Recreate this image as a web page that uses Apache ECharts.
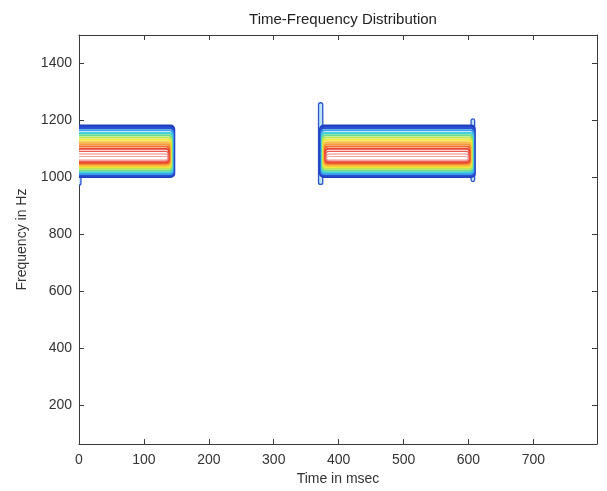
<!DOCTYPE html>
<html><head><meta charset="utf-8">
<script src="https://cdn.jsdelivr.net/npm/echarts@6/dist/echarts.min.js"></script>
<style>html,body{margin:0;padding:0;background:#fff}#c{width:607px;height:491px}</style>
</head><body><div id="c"></div>
<script>
// ---- data ----
const titleText = 'Time-Frequency Distribution';
const xName = 'Time in msec';
const yName = 'Frequency in Hz';
const xTicks = [0, 100, 200, 300, 400, 500, 600, 700];
const yTicks = [200, 400, 600, 800, 1000, 1200, 1400];
const xMin = 0, xMax = 798;
const yMin = 62.5, yMax = 1500;

// tone bursts (ms)
const burstStart = [-20, 372];
const burstEnd = [146, 609];

// contour levels, outer -> inner (Hz / ms)
const levelTop    = [1180, 1174, 1165, 1156, 1148, 1140, 1132, 1123, 1116, 1108, 1100, 1091, 1082, 1073];
const levelBottom = [1003, 1007, 1012, 1018, 1024, 1030, 1036, 1041, 1046, 1049, 1052, 1055, 1058, 1061];
const levelInset  = [0, 0.8, 1.6, 2.4, 3.2, 4.0, 4.8, 5.6, 6.4, 7.0, 7.6, 8.2, 8.8, 9.4];

// spurious edge contours
const spikeT0 = [-3, 369, 604];
const spikeT1 = [3, 375.5, 609.5];
const spikeLo = [972, 975, 985];
const spikeHi = [1010, 1262, 1205];

// ---- styles ----
const levelColors = ['#1f3fbf','#2850d0','#3a9de8','#3fd0e0','#6fdc8c','#b8e858','#f2e63a','#f7c040','#f59a38','#f06a2e','#e8402a','#ec5a50','#f08078','#f4a29c'];
const levelWidths = [3, 2.5, 2, 2, 2, 2, 2, 2, 2, 2, 1.6, 1.3, 1.1, 1];

const rects = [];
for (let b = 0; b < burstStart.length; b++) {
  for (let l = 0; l < levelTop.length; l++) {
    rects.push([burstStart[b] + levelInset[l], burstEnd[b] - levelInset[l], levelBottom[l], levelTop[l], l]);
  }
}
const spikes = spikeT0.map((t, i) => [t, spikeT1[i], spikeLo[i], spikeHi[i]]);

const chart = echarts.init(document.getElementById('c'), null, {renderer: 'canvas'});
const font = 'Liberation Sans, Arial, sans-serif';
const axisCol = '#3a3a3a';

function clipOf(params) {
  const c = params.coordSys;
  return {type: 'rect', shape: {x: c.x, y: c.y, width: c.width, height: c.height}};
}
const plain = v => String(v);

chart.setOption({
  animation: false,
  backgroundColor: '#fff',
  title: {text: titleText, left: 338, top: 7, textAlign: 'center',
    textStyle: {fontFamily: font, fontSize: 15, fontWeight: 'normal', color: '#222'}},
  grid: {left: 79, right: 10, top: 35, bottom: 42, containLabel: false},
  xAxis: [
    {type: 'value', min: xMin, max: xMax, position: 'bottom',
      name: xName, nameLocation: 'middle', nameGap: 25,
      nameTextStyle: {fontFamily: font, fontSize: 14, color: '#333'},
      axisLine: {onZero: false, lineStyle: {color: axisCol, width: 1}},
      axisTick: {inside: true, length: 5, lineStyle: {color: axisCol}, customValues: xTicks},
      axisLabel: {fontFamily: font, fontSize: 14, color: '#333', margin: 9, customValues: xTicks, formatter: plain},
      splitLine: {show: false}},
    {type: 'value', min: xMin, max: xMax, position: 'top',
      axisLine: {onZero: false, lineStyle: {color: axisCol, width: 1}},
      axisTick: {inside: true, length: 5, lineStyle: {color: axisCol}, customValues: xTicks},
      axisLabel: {show: false}, splitLine: {show: false}}
  ],
  yAxis: [
    {type: 'value', min: yMin, max: yMax, position: 'left',
      name: yName, nameLocation: 'middle', nameGap: 50, nameRotate: 90,
      nameTextStyle: {fontFamily: font, fontSize: 14, color: '#333'},
      axisLine: {show: true, onZero: false, lineStyle: {color: axisCol, width: 1}},
      axisTick: {show: true, inside: true, length: 5, lineStyle: {color: axisCol}, customValues: yTicks},
      axisLabel: {fontFamily: font, fontSize: 14, color: '#333', margin: 7, customValues: yTicks, formatter: plain},
      splitLine: {show: false}},
    {type: 'value', min: yMin, max: yMax, position: 'right',
      axisLine: {show: true, onZero: false, lineStyle: {color: axisCol, width: 1}},
      axisTick: {show: true, inside: true, length: 5, lineStyle: {color: axisCol}, customValues: yTicks},
      axisLabel: {show: false}, splitLine: {show: false}}
  ],
  series: [
    {type: 'custom', xAxisIndex: 0, yAxisIndex: 0, data: spikes,
      renderItem: function (params, api) {
        const p0 = api.coord([api.value(0), api.value(3)]);
        const p1 = api.coord([api.value(1), api.value(2)]);
        return {type: 'rect', clipPath: clipOf(params),
          shape: {x: p0[0], y: p0[1], width: p1[0] - p0[0], height: p1[1] - p0[1], r: 2},
          style: {fill: '#bfe4f4', stroke: '#2a55cc', lineWidth: 1.3}};
      }},
    {type: 'custom', xAxisIndex: 0, yAxisIndex: 0, data: rects,
      renderItem: function (params, api) {
        const lvl = api.value(4);
        const p0 = api.coord([api.value(0), api.value(3)]);
        const p1 = api.coord([api.value(1), api.value(2)]);
        return {type: 'rect', clipPath: clipOf(params),
          shape: {x: p0[0], y: p0[1], width: p1[0] - p0[0], height: p1[1] - p0[1], r: 3},
          style: {fill: lvl === 0 ? '#fff' : 'none', stroke: levelColors[lvl], lineWidth: levelWidths[lvl]}};
      }}
  ]
});
</script></body></html>
